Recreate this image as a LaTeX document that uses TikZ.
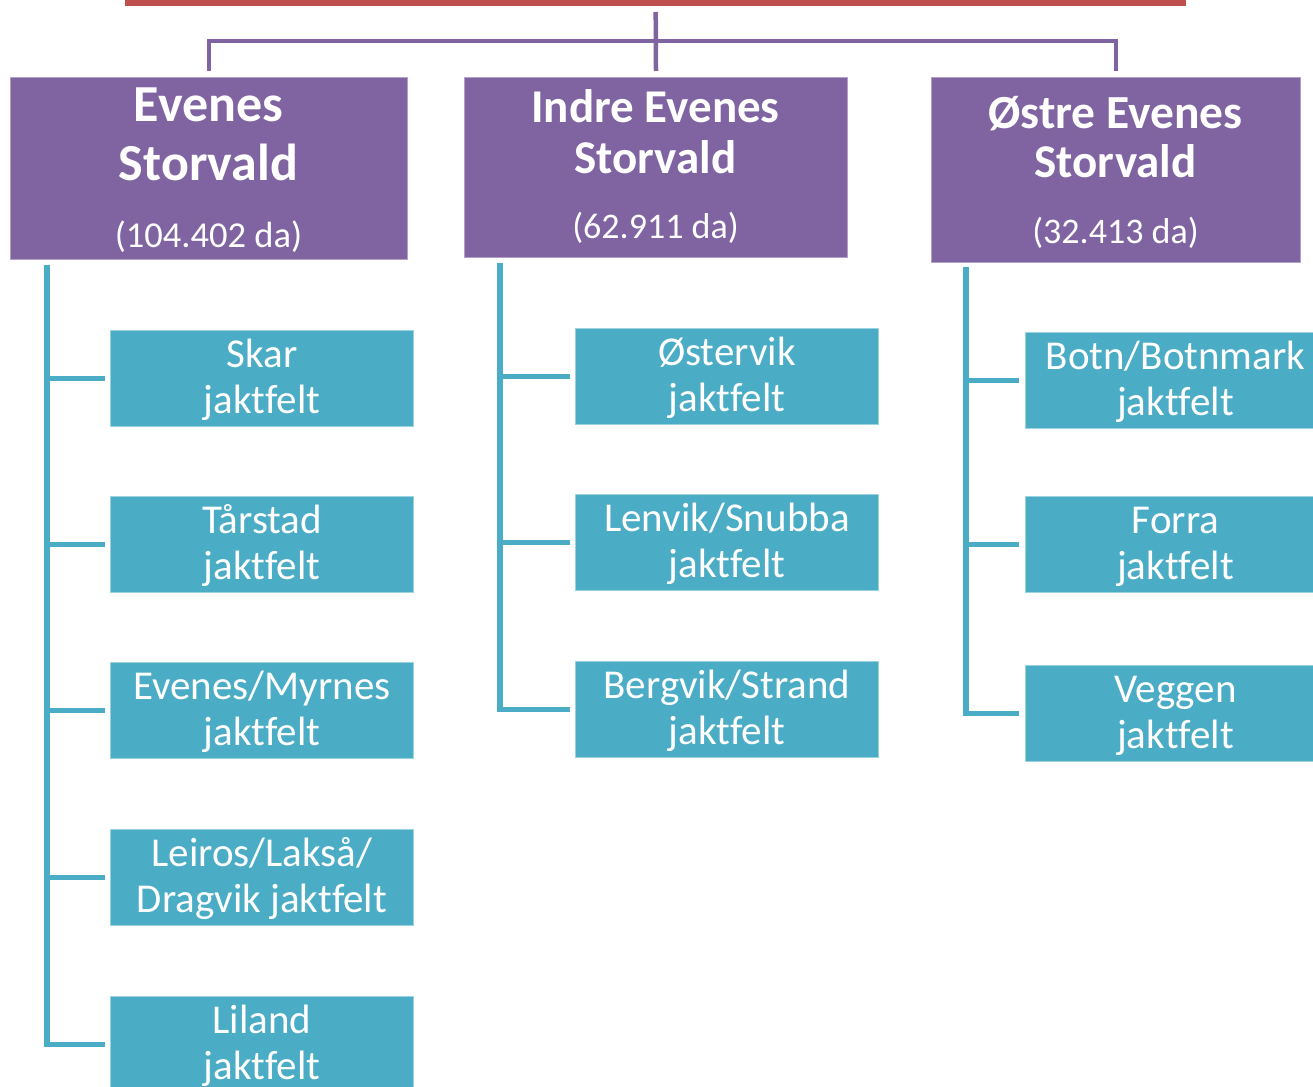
\documentclass[tikz,border=0pt]{standalone}
\usepackage{fontspec}
\setmainfont{Carlito}[Ligatures={NoCommon}]
\definecolor{hpurple}{HTML}{8064A2}
\definecolor{lteal}{HTML}{4BACC6}
\definecolor{tred}{HTML}{C0504D}
\tikzset{
  headbox/.style={rectangle, fill=hpurple, draw=hpurple!60!white, line width=1pt, inner sep=0pt, anchor=north west},
  leafbox/.style={rectangle, fill=lteal, draw=lteal!55!white, line width=1pt, inner sep=0pt, anchor=north west, minimum height=96pt},
  leaftext/.style={anchor=base, inner sep=0pt, text=white, font=\fontsize{41}{46}\selectfont},
  headtext/.style={anchor=base, inner sep=0pt, text=white},
  pconn/.style={draw=hpurple, line width=4.5pt},
  tconn/.style={draw=lteal, line width=5.5pt}
}
\newcommand\leaf[6]{% name, x, y, width, line1, line2
  \node[leafbox, minimum width=#4pt] (#1) at (#2,#3) {};
  \node[leaftext] (#1a) at ([yshift=-37pt]#1.north) {#5};
  \node[leaftext] (#1b) at ([yshift=-83pt]#1.north) {#6};
}
\begin{document}
\begin{tikzpicture}[x=1pt,y=-1pt]
\useasboundingbox (0,0) rectangle (1313,1086);
% top bar
\node[rectangle, fill=tred, inner sep=0pt, minimum width=1061pt, minimum height=16pt, anchor=south west] (top) at (125,6) {};
% headers
\node[headbox, minimum width=397pt, minimum height=182pt] (h1) at (10,77) {};
\node[headtext, font=\bfseries\fontsize{52}{60}\selectfont] (h1a) at (208.5,122) {Evenes};
\node[headtext, font=\bfseries\fontsize{52}{60}\selectfont] (h1b) at (208.5,180) {Storvald};
\node[headtext, font=\fontsize{36.5}{44}\selectfont] (h1c) at (208.5,247) {(104.402 da)};

\node[headbox, minimum width=383pt, minimum height=180pt] (h2) at (464,77) {};
\node[headtext, font=\bfseries\fontsize{47}{56}\selectfont] (h2a) at (655.5,123) {Indre Evenes};
\node[headtext, font=\bfseries\fontsize{47}{56}\selectfont] (h2b) at (655.5,174) {Storvald};
\node[headtext, font=\fontsize{36}{44}\selectfont] (h2c) at (655.5,238) {(62.911 da)};

\node[headbox, minimum width=369pt, minimum height=185pt] (h3) at (931,77) {};
\node[headtext, font=\bfseries\fontsize{47.5}{56}\selectfont] (h3a) at (1115.5,129) {Østre Evenes};
\node[headtext, font=\bfseries\fontsize{47}{56}\selectfont] (h3b) at (1115.5,178) {Storvald};
\node[headtext, font=\fontsize{36}{44}\selectfont] (h3c) at (1115.5,243) {(32.413 da)};

% purple connectors
\draw[pconn] ([yshift=-6pt]top.south) -- ([yshift=6pt]h2.north);
\draw[pconn] ([yshift=6pt]h1.north) -- ++(0,-30) -| ([yshift=6pt]h3.north);

% column 1
\leaf{a1}{110}{330}{303}{Skar}{jaktfelt}
\leaf{a2}{110}{496}{303}{Tårstad}{jaktfelt}
\leaf{a3}{110}{662}{303}{Evenes/Myrnes}{jaktfelt}
\leaf{a4}{110}{829}{303}{Leiros/Lakså/}{Dragvik jaktfelt}
\leaf{a5}{110}{996}{303}{Liland}{jaktfelt}
% column 2
\leaf{b1}{575}{328}{303}{Østervik}{jaktfelt}
\leaf{b2}{575}{494}{303}{Lenvik/Snubba}{jaktfelt}
\leaf{b3}{575}{661}{303}{Bergvik/Strand}{jaktfelt}
% column 3
\leaf{c1}{1025}{332}{300}{Botn/Botnmark}{jaktfelt}
\leaf{c2}{1025}{496}{300}{Forra}{jaktfelt}
\leaf{c3}{1025}{665}{300}{Veggen}{jaktfelt}

% teal connectors
\coordinate (ca) at (47,265);
\coordinate (cb) at (500,263);
\coordinate (cc) at (966,267);
\draw[tconn] (ca) |- ([xshift=-5pt]a5.west);
\foreach \n in {a1,a2,a3,a4} \draw[tconn] (ca |- \n.west) -- ([xshift=-5pt]\n.west);
\draw[tconn] (cb) |- ([xshift=-5pt]b3.west);
\foreach \n in {b1,b2} \draw[tconn] (cb |- \n.west) -- ([xshift=-5pt]\n.west);
\draw[tconn] (cc) |- ([xshift=-6pt]c3.west);
\foreach \n in {c1,c2} \draw[tconn] (cc |- \n.west) -- ([xshift=-6pt]\n.west);
\end{tikzpicture}
\end{document}
